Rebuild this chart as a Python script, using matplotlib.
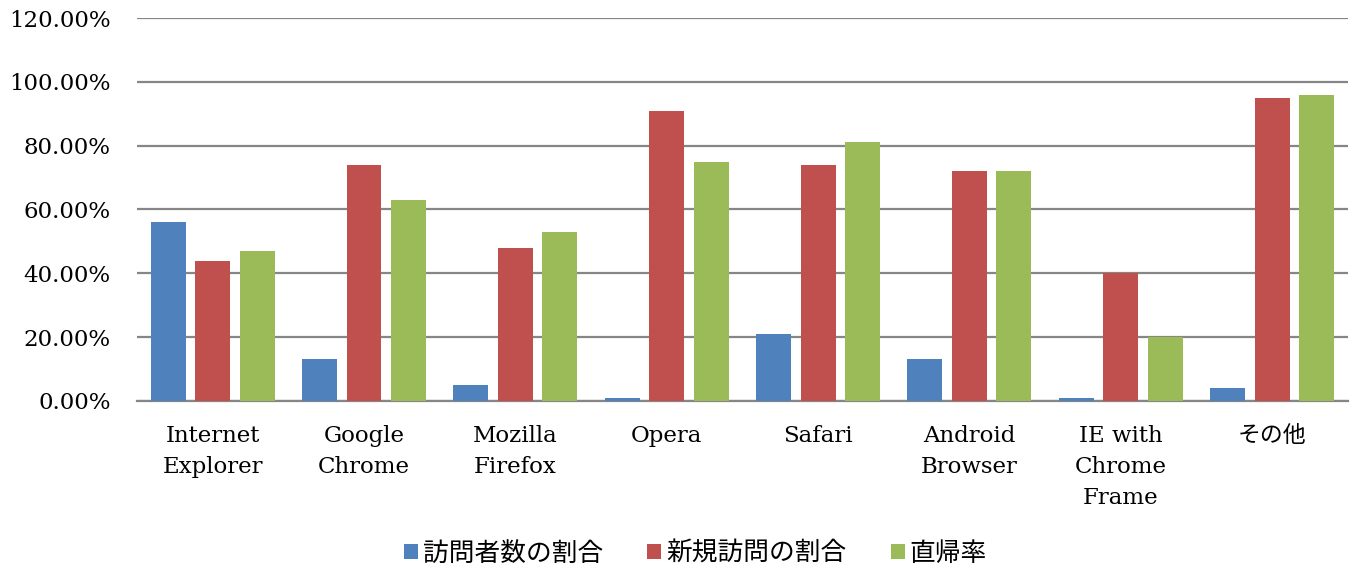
import matplotlib
matplotlib.use("Agg")
import matplotlib.pyplot as plt
import numpy as np
from matplotlib.ticker import FuncFormatter

categories = ["Internet\nExplorer", "Google\nChrome", "Mozilla\nFirefox", "Opera",
              "Safari", "Android\nBrowser", "IE with\nChrome\nFrame", "その他"]
series_names = ["訪問者数の割合", "新規訪問の割合", "直帰率"]
visitors = [56, 13, 5, 1, 21, 13, 1, 4]
new_visits = [44, 74, 48, 91, 74, 72, 40, 95]
bounce = [47, 63, 53, 75, 81, 72, 20, 96]
colors = ["#4F81BD", "#C0504D", "#9BBB59"]

plt.rcParams['font.family'] = ['DejaVu Serif', 'Noto Sans CJK JP']

fig = plt.figure(figsize=(13.56, 5.72), dpi=100)
ax = fig.add_axes([0.101, 0.299, 0.893, 0.6695])

x = np.arange(len(categories))
w = 0.231
step = 0.294
for i, (vals, c) in enumerate(zip([visitors, new_visits, bounce], colors)):
    ax.bar(x + (i - 1) * step, vals, width=w, color=c, label=series_names[i], zorder=3)

ax.set_xlim(-0.5, len(categories) - 0.5)
ax.set_ylim(0, 120)
ax.set_yticks(np.arange(0, 121, 20))
ax.yaxis.set_major_formatter(FuncFormatter(lambda v, p: f"{v:.2f}%"))
ax.grid(axis='y', color='#868686', linewidth=1.6, zorder=0)
for s in ['top', 'right', 'left']:
    ax.spines[s].set_visible(False)
ax.spines['bottom'].set_color('#868686')
ax.spines['bottom'].set_linewidth(1.6)
ax.tick_params(axis='both', length=0, labelsize=16.5, colors='black')
ax.tick_params(axis='y', pad=19)
ax.set_xticks(x)
ax.set_xticklabels(categories, linespacing=1.55, va='top')
ax.tick_params(axis='x', pad=17)

leg = fig.legend(loc='center', bbox_to_anchor=(0.513, 0.033), ncol=3,
                 frameon=False, fontsize=18.5, handlelength=0.55, handleheight=0.55,
                 handletextpad=0.2, columnspacing=1.7)

fig.savefig("out.png", dpi=100)
